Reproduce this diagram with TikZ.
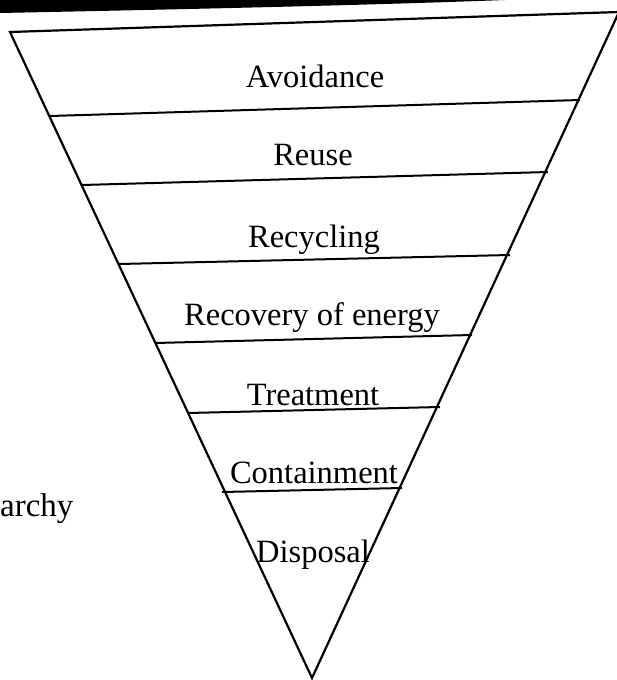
\documentclass[tikz,border=0pt]{standalone}
\usepackage{fontspec}
\setmainfont{Liberation Serif}
\usetikzlibrary{positioning}
\tikzset{
  borde/.style={line width=2.2pt,line join=miter},
  divisor/.style={line width=2pt},
  nivel/.style={font=\fontsize{32.5}{35}\selectfont,inner sep=0pt,anchor=base},
  margen/.style={font=\fontsize{33}{36}\selectfont,inner sep=0pt,anchor=base west},
}

\begin{document}
\begin{tikzpicture}[x=1pt,y=-1pt]
\useasboundingbox (0,0) rectangle (616,680);

% barra negra del borde superior
\fill (0,0) -- (505,0) .. controls (400,4) and (250,8) .. (0,13) -- cycle;

% vertices del triangulo invertido
\coordinate (ti) at (10,32);
\coordinate (td) at (619,12);
\coordinate (vb) at (312,678);
\draw[borde] (ti) -- (td) -- (vb) -- cycle;

% divisiones entre niveles
\foreach \xa/\ya/\xb/\yb in {50/116/580/100, 82/185/548/172, 119/264/510/255,
                             155/343/472/335, 188/413/440/407, 222/492/402/488}{
  \draw[divisor] (\xa,\ya) -- (\xb,\yb);
}

% niveles
\node[nivel] (avoid) at (315,87) {Avoidance};
\node[nivel] (reuse) at (313,165) {Reuse};
\node[nivel] (recic) at (314,247) {Recycling};
\node[nivel] (recup) at (312,325) {Recovery of energy};
\node[nivel] (trat) at (313,405) {Treatment};
\node[nivel] (cont) at (314,483) {Containment};
\node[nivel] (disp) at (313,562) {Disposal};

\node[margen] (jerarq) at (0,516) {archy};

\end{tikzpicture}
\end{document}
